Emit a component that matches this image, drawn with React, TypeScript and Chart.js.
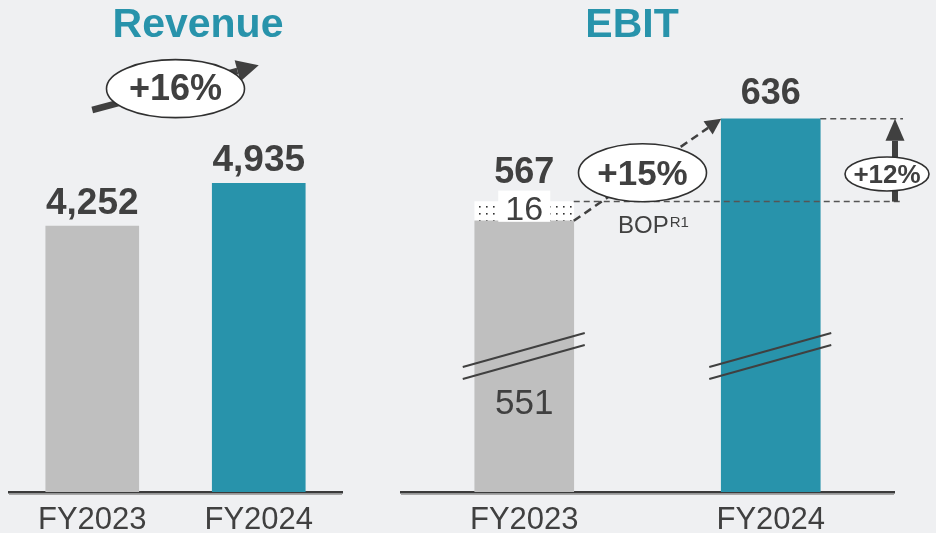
import React, { useEffect, useRef } from 'react';
import { Chart, registerables } from 'chart.js';

Chart.register(...registerables);

// ---- data ----
const revenueCategories = ['FY2023', 'FY2024'];
const revenueValues = [4252, 4935];
const revenueGrowth = '+16%';

const ebitCategories = ['FY2023', 'FY2024'];
const ebitBaseValues = [551, 636];
const ebitBopValues: (number | null)[] = [16, null];
const ebitGrowth = '+15%';
const ebitExBopGrowth = '+12%';
const bopLabel = 'BOP';
const bopNote = 'R1';

// ---- style ----
const BG = '#EFF0F2';
const TEAL = '#2893AB';
const GRAY = '#BFBFBF';
const TEXT = '#404040';
const FONT = '"Liberation Sans", Arial, Helvetica, sans-serif';
const W = 936;
const H = 533;
const CH = 549;

function ellipseLabel(ctx: CanvasRenderingContext2D, cx: number, cy: number, rx: number, ry: number, text: string, size: number, baselineOffset: number) {
  ctx.save();
  ctx.beginPath();
  ctx.ellipse(cx, cy, rx, ry, 0, 0, Math.PI * 2);
  ctx.fillStyle = '#FFFFFF';
  ctx.fill();
  ctx.lineWidth = 1.6;
  ctx.strokeStyle = '#303030';
  ctx.stroke();
  ctx.fillStyle = TEXT;
  ctx.font = `bold ${size}px ${FONT}`;
  ctx.textAlign = 'center';
  ctx.textBaseline = 'alphabetic';
  ctx.fillText(text, cx, cy + baselineOffset);
  ctx.restore();
}

function arrow(ctx: CanvasRenderingContext2D, x1: number, y1: number, x2: number, y2: number, width: number, headLen: number, headHalf: number, dash: number[] | null) {
  const ang = Math.atan2(y2 - y1, x2 - x1);
  const bx = x2 - Math.cos(ang) * headLen;
  const by = y2 - Math.sin(ang) * headLen;
  ctx.save();
  ctx.strokeStyle = TEXT;
  ctx.fillStyle = TEXT;
  ctx.lineWidth = width;
  if (dash) ctx.setLineDash(dash);
  ctx.beginPath();
  ctx.moveTo(x1, y1);
  ctx.lineTo(bx, by);
  ctx.stroke();
  ctx.setLineDash([]);
  ctx.beginPath();
  ctx.moveTo(x2, y2);
  ctx.lineTo(bx + Math.cos(ang + Math.PI / 2) * headHalf, by + Math.sin(ang + Math.PI / 2) * headHalf);
  ctx.lineTo(bx - Math.cos(ang + Math.PI / 2) * headHalf, by - Math.sin(ang + Math.PI / 2) * headHalf);
  ctx.closePath();
  ctx.fill();
  ctx.restore();
}

function axisShadow(chart: any) {
  const ctx = chart.ctx as CanvasRenderingContext2D;
  const a = chart.chartArea;
  ctx.save();
  ctx.strokeStyle = '#A8A8A8';
  ctx.lineWidth = 1;
  ctx.beginPath();
  ctx.moveTo(a.left, a.bottom + 2.5);
  ctx.lineTo(a.right, a.bottom + 2.5);
  ctx.stroke();
  ctx.restore();
}

const revenuePlugin = {
  id: 'revenueDecor',
  afterDraw(chart: any) {
    const ctx = chart.ctx as CanvasRenderingContext2D;
    const bars = chart.getDatasetMeta(0).data;
    axisShadow(chart);
    ctx.save();
    ctx.fillStyle = TEAL;
    ctx.font = `bold 41px ${FONT}`;
    ctx.textAlign = 'center';
    ctx.textBaseline = 'alphabetic';
    ctx.fillText('Revenue', 198, 37);
    ctx.fillStyle = TEXT;
    ctx.font = `bold 37px ${FONT}`;
    bars.forEach((b: any, i: number) => {
      ctx.fillText(revenueValues[i].toLocaleString('en-US'), b.x, b.y - 12);
    });
    ctx.restore();
    const b0 = bars[0], b1 = bars[1];
    const sx = b0.x, sy = b0.y - 116;
    const ex = b1.x, ey = b1.y - 118;
    arrow(ctx, sx, sy, ex, ey, 6.5, 22, 11, null);
    ellipseLabel(ctx, (sx + ex) / 2, (sy + ey) / 2 + 1, 69, 29, revenueGrowth, 36, 11);
  },
};

const ebitPlugin = {
  id: 'ebitDecor',
  afterDraw(chart: any) {
    const ctx = chart.ctx as CanvasRenderingContext2D;
    const a = chart.chartArea;
    const base = chart.getDatasetMeta(0).data;
    const bop = chart.getDatasetMeta(1).data[0] as any;
    const b0 = base[0] as any, b1 = base[1] as any;
    const w0 = b0.width, w1 = b1.width;
    axisShadow(chart);

    ctx.save();
    ctx.fillStyle = TEAL;
    ctx.font = `bold 41px ${FONT}`;
    ctx.textAlign = 'center';
    ctx.textBaseline = 'alphabetic';
    ctx.fillText('EBIT', 632, 37);
    ctx.restore();

    // break marks
    ctx.save();
    ctx.strokeStyle = TEXT;
    ctx.lineWidth = 2;
    [b0, b1].forEach((b: any) => {
      const xl = b.x - b.width / 2 - 12;
      const xr = b.x + b.width / 2 + 11;
      [0, 12].forEach((off) => {
        ctx.beginPath();
        ctx.moveTo(xl, a.bottom - 125 + off);
        ctx.lineTo(xr, a.bottom - 159 + off);
        ctx.stroke();
      });
    });
    ctx.restore();

    ctx.save();
    ctx.fillStyle = TEXT;
    ctx.font = `35px ${FONT}`;
    ctx.textAlign = 'center';
    ctx.textBaseline = 'alphabetic';
    ctx.fillText(String(ebitBaseValues[0]), b0.x, a.bottom - 78);

    const bopTop = bop.y;
    const bopBottom = bop.base;
    ctx.fillStyle = '#FFFFFF';
    ctx.fillRect(b0.x - 26, bopTop - 11, 52, bopBottom - bopTop + 12);
    ctx.fillStyle = TEXT;
    ctx.font = `34px ${FONT}`;
    ctx.fillText(String(ebitBopValues[0]), b0.x, bopBottom - 1);

    ctx.font = `bold 36px ${FONT}`;
    const total0 = ebitBaseValues[0] + (ebitBopValues[0] || 0);
    ctx.fillText(String(total0), b0.x, bopTop - 19);
    ctx.fillText(String(ebitBaseValues[1]), b1.x, b1.y - 15);
    ctx.restore();

    const refRight = 903;
    ctx.save();
    ctx.strokeStyle = '#555555';
    ctx.lineWidth = 1.5;
    ctx.setLineDash([6, 4]);
    ctx.beginPath();
    ctx.moveTo(b0.x + w0 / 2, bopTop);
    ctx.lineTo(refRight, bopTop);
    ctx.moveTo(b1.x + w1 / 2, b1.y);
    ctx.lineTo(refRight, b1.y);
    ctx.stroke();
    ctx.restore();

    arrow(ctx, 895, bopTop, 895, b1.y, 6, 22, 9.5, null);
    ellipseLabel(ctx, 887, 174, 42, 17, ebitExBopGrowth, 26, 9);

    const sx = b0.x + w0 / 2, sy = bopBottom;
    const ex = b1.x - w1 / 2, ey = b1.y;
    arrow(ctx, sx, sy, ex, ey, 2.5, 16, 8, [8, 5]);
    ellipseLabel(ctx, (sx + ex) / 2 - 5, (sy + ey) / 2 + 3, 64, 29, ebitGrowth, 35, 12);

    ctx.save();
    ctx.fillStyle = TEXT;
    ctx.textAlign = 'left';
    ctx.textBaseline = 'alphabetic';
    ctx.font = `24px ${FONT}`;
    ctx.fillText(bopLabel, 618, 233);
    const bw = ctx.measureText(bopLabel).width;
    ctx.font = `15px ${FONT}`;
    ctx.fillText(bopNote, 618 + bw + 1, 227);
    ctx.restore();
  },
};

function xScale(fontSize: number) {
  return {
    type: 'category' as const,
    offset: true,
    stacked: true,
    grid: { display: false, drawTicks: false },
    border: { display: true, color: '#3A3A3A', width: 2.5 },
    ticks: {
      color: TEXT,
      padding: 13,
      font: { family: FONT, size: fontSize, lineHeight: 1 },
    },
  };
}

export default function App() {
  const revRef = useRef<HTMLCanvasElement>(null);
  const ebitRef = useRef<HTMLCanvasElement>(null);

  useEffect(() => {
    const pat = document.createElement('canvas');
    pat.width = 7;
    pat.height = 7;
    const pctx = pat.getContext('2d')!;
    pctx.fillStyle = '#FFFFFF';
    pctx.fillRect(0, 0, 7, 7);
    pctx.fillStyle = '#303030';
    pctx.fillRect(3, 3, 1.6, 1.6);
    const dotted = (ebitRef.current!.getContext('2d') as CanvasRenderingContext2D).createPattern(pat, 'repeat')!;

    const rev = new Chart(revRef.current!, {
      type: 'bar',
      data: {
        labels: revenueCategories,
        datasets: [
          {
            data: revenueValues,
            backgroundColor: [GRAY, TEAL],
            barThickness: 93,
            borderWidth: 0,
          },
        ],
      },
      options: {
        responsive: false,
        animation: false,
        devicePixelRatio: 1,
        layout: { padding: { left: 9, right: W - 342, top: 0, bottom: 0 } },
        plugins: { legend: { display: false }, tooltip: { enabled: false } },
        scales: {
          x: xScale(31) as any,
          y: { display: false, min: 0, max: 7865 },
        },
      },
      plugins: [revenuePlugin],
    });

    const ebit = new Chart(ebitRef.current!, {
      type: 'bar',
      data: {
        labels: ebitCategories,
        datasets: [
          {
            data: ebitBaseValues,
            backgroundColor: [GRAY, TEAL],
            barThickness: 99,
            borderWidth: 0,
          },
          {
            data: ebitBopValues,
            backgroundColor: dotted as any,
            barThickness: 99,
            borderWidth: 0,
          },
        ],
      },
      options: {
        responsive: false,
        animation: false,
        devicePixelRatio: 1,
        layout: { padding: { left: 401, right: W - 894, top: 0, bottom: 0 } },
        plugins: { legend: { display: false }, tooltip: { enabled: false } },
        scales: {
          x: xScale(31) as any,
          y: { display: false, stacked: true, min: 325, max: 735 },
        },
      },
      plugins: [ebitPlugin],
    });

    return () => {
      rev.destroy();
      ebit.destroy();
    };
  }, []);

  return (
    <div style={{ position: 'fixed', left: 0, top: 0, width: W, height: H, background: BG, overflow: 'hidden' }}>
      <canvas ref={revRef} width={W} height={CH} style={{ position: 'absolute', left: 0, top: 0 }} />
      <canvas ref={ebitRef} width={W} height={CH} style={{ position: 'absolute', left: 0, top: 0 }} />
    </div>
  );
}
